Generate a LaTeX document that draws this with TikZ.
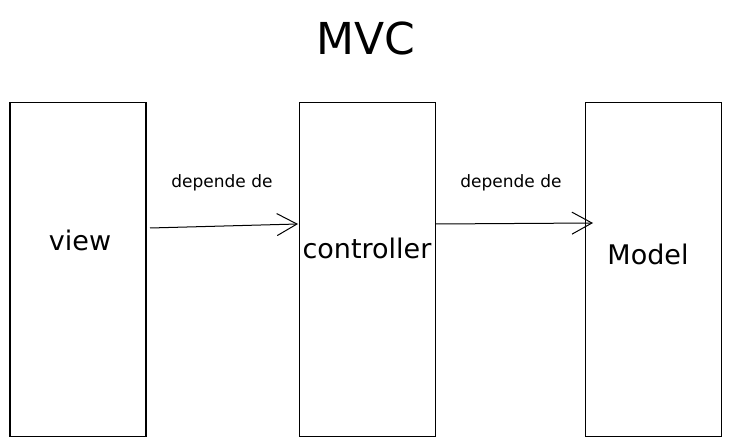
\documentclass[tikz,border=0pt]{standalone}
\usepackage{fontspec}
\setmainfont{DejaVu Sans}
\usetikzlibrary{arrows.meta}
\begin{document}
\begin{tikzpicture}[x=1pt,y=-1pt,
  box/.style={draw=black,line width=1.1pt,minimum width=136pt,minimum height=334pt,inner sep=0pt},
  lbl/.style={font=\fontsize{27}{30}\selectfont},
  small/.style={font=\fontsize{17}{19}\selectfont},
  conn/.style={line width=1pt,-{Straight Barb[length=20pt,width=22pt,line width=1pt]}}]
\useasboundingbox (0,0) rectangle (730,446);
\node[box] (view) at (78,269.5) {};
\node[box] (ctrl) at (367.5,269.5) {};
\node[box] (model) at (653.5,269.5) {};
\node[font=\fontsize{44}{48}\selectfont] (title) at (366,38) {MVC};
\node[lbl] (vt) at (80,240) {view};
\node[lbl] (ct) at (367,248) {controller};
\node[lbl] (mt) at (648,254) {Model};
\coordinate (a1s) at (150,228);
\coordinate (a1e) at (298,224);
\coordinate (a2s) at (436,224);
\coordinate (a2e) at (593,223);
\draw[conn] (a1s) -- (a1e);
\draw[conn] (a2s) -- (a2e);
\node[small] (l1) at (222,183) {depende de};
\node[small] (l2) at (511,183) {depende de};
\end{tikzpicture}
\end{document}
